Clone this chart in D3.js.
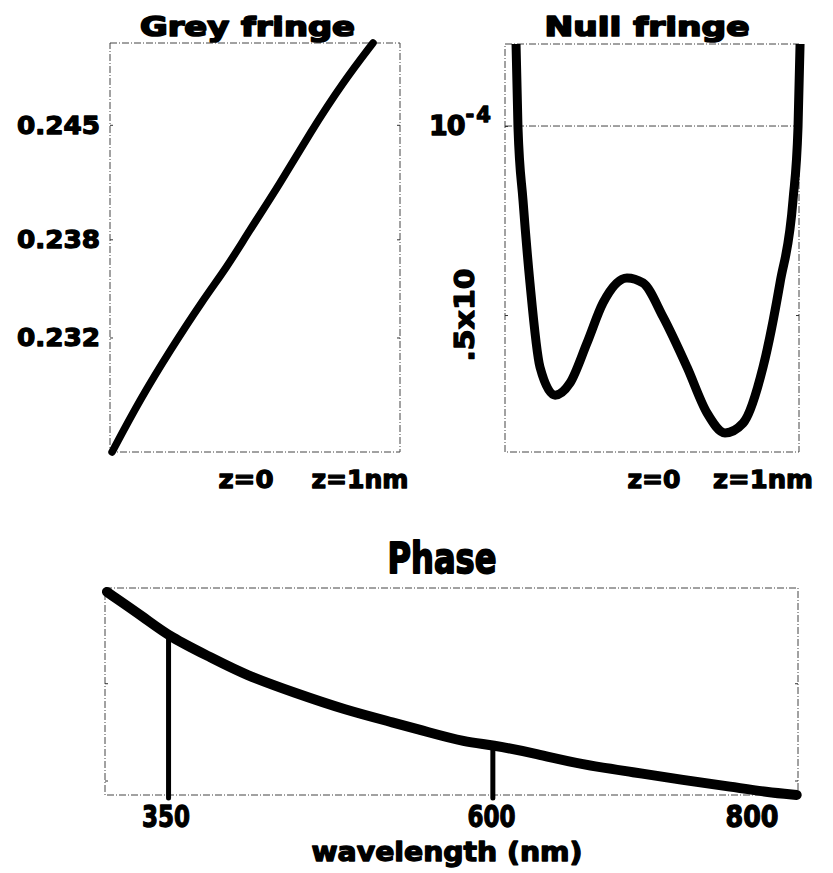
<!DOCTYPE html>
<html>
<head>
<meta charset="utf-8">
<script src="https://cdn.jsdelivr.net/npm/d3@7"></script>
<style>
  html, body { margin: 0; padding: 0; background: #fff; }
  svg { display: block; }
  text { font-family: "DejaVu Sans", "Liberation Sans", sans-serif; font-weight: bold; fill: #000;
         stroke: #000; stroke-width: 1.3px; stroke-linejoin: round; }
</style>
</head>
<body>
<svg id="chart" width="833" height="873"></svg>
<script>
// ---------- data ----------
const greyZ = [-1.175, -0.930, -0.667, -0.377, -0.167, 0.018, 0.298, 0.561, 0.851, 1.114];
const greyIntensity = [0.225, 0.2282, 0.2312, 0.2343, 0.2363, 0.2384, 0.2414, 0.2445, 0.2476, 0.250];
const greyTicks = [0.232, 0.238, 0.245];
const greyTickLabels = ["0.232", "0.238", "0.245"];

const nullZ = [-1.266, -1.248, -1.202, -1.138, -1.046, -0.908, -0.771, -0.615, -0.468, -0.248, -0.101,
               0.083, 0.303, 0.486, 0.651, 0.817, 1.0, 1.156, 1.275, 1.321, 1.340];
// null-fringe intensity in units of 1e-4
const nullIntensity = [1.22, 0.997, 0.804, 0.585, 0.362, 0.288, 0.320, 0.426, 0.532, 0.598, 0.585,
                       0.495, 0.362, 0.241, 0.188, 0.214, 0.362, 0.585, 0.804, 0.997, 1.22];
const nullGrid = [1.0];
const nullHalfTick = 0.5;

const zTicks = [0, 1];
const zTickLabels = ["z=0", "z=1nm"];

const wavelengths = [304.7, 333.9, 353.1, 385.3, 410.7, 449.1, 487.5, 525.9, 551.2, 579.6, 600.3,
                     631.8, 670.2, 708.6, 747.0, 785.0, 811.3, 834.3];
const phase = [0.981, 0.855, 0.763, 0.662, 0.580, 0.493, 0.411, 0.348, 0.304, 0.256, 0.242,
               0.203, 0.145, 0.111, 0.072, 0.039, 0.014, 0.0];
const wlTicks = [350, 600, 800];
const wlTickLabels = ["350", "600", "800"];
const markerWl = [352, 601];
const markerPhase = [0.765, 0.238];
const phaseMinorTicks = [0.07, 0.54];

// ---------- setup ----------
const svg = d3.select("#chart");
svg.append("rect").attr("width", 833).attr("height", 873).attr("fill", "#fff");

const frameStyle = sel => sel.attr("fill", "none").attr("stroke", "#444")
  .attr("stroke-width", 1).attr("stroke-dasharray", "7,2,1,2");

function frame(x0, x1, y0, y1) {
  svg.append("rect").attr("x", x0).attr("y", y0).attr("width", x1 - x0).attr("height", y1 - y0)
    .call(frameStyle);
}

function label(txt, x, y, size, len, anchor) {
  return svg.append("text").attr("x", x).attr("y", y).attr("font-size", size)
    .attr("text-anchor", anchor || "middle")
    .attr("textLength", len).attr("lengthAdjust", "spacingAndGlyphs").text(txt);
}

function sideTicks(yScale, xLeft, xRight, values) {
  [svg.append("g").attr("transform", `translate(${xLeft},0)`)
     .call(d3.axisRight(yScale).tickValues(values).tickSize(3).tickFormat("")),
   svg.append("g").attr("transform", `translate(${xRight},0)`)
     .call(d3.axisLeft(yScale).tickValues(values).tickSize(3).tickFormat(""))]
    .forEach(g => { g.select(".domain").remove(); g.selectAll("line").attr("stroke", "#333"); });
}

// ---------- Grey fringe ----------
const gx = d3.scaleLinear().domain([-1.193, 1.351]).range([110, 400]);
const gy = d3.scaleLinear().domain([0.225, 0.250]).range([452, 43]);
frame(gx.range()[0], gx.range()[1], gy.range()[1], gy.range()[0]);
sideTicks(gy, gx.range()[0], gx.range()[1], greyTicks);

greyTicks.forEach((t, i) => label(greyTickLabels[i], 100, gy(t) + 9, 25, 83, "end"));
zTicks.forEach((t, i) => label(zTickLabels[i], gx(t), 488, 25, i === 0 ? 55 : 97));
label("Grey fringe", 247.5, 36, 27, 215).style("stroke-width", "1.7px");

svg.append("path")
  .datum(greyZ.map((z, i) => [z, greyIntensity[i]]))
  .attr("d", d3.line().x(d => gx(d[0])).y(d => gy(d[1])).curve(d3.curveBasis))
  .attr("fill", "none").attr("stroke", "#000").attr("stroke-width", 7.5)
  .attr("stroke-linecap", "round").attr("stroke-linejoin", "round");

// ---------- Null fringe ----------
const nx = d3.scaleLinear().domain([-1.367, 1.330]).range([505, 799]);
const ny = d3.scaleLinear().domain([0.1376, 1.217]).range([452, 44]);
frame(nx.range()[0], nx.range()[1], ny.range()[1], ny.range()[0]);

svg.append("g").selectAll("line").data(nullGrid).join("line")
  .attr("x1", nx.range()[0]).attr("x2", nx.range()[1])
  .attr("y1", d => ny(d)).attr("y2", d => ny(d))
  .call(frameStyle);
sideTicks(ny, nx.range()[0], nx.range()[1], [nullHalfTick, 1.0]);

const powLabel = svg.append("text").attr("x", 429).attr("y", ny(1.0) + 9)
  .attr("font-size", 27).attr("text-anchor", "start");
powLabel.append("tspan").attr("letter-spacing", -1).text("10");
powLabel.append("tspan").attr("dx", 1).attr("dy", -13).attr("font-size", 21)
  .attr("letter-spacing", 2).text("-4");

svg.append("text").attr("transform", `translate(474,${ny(nullHalfTick)}) rotate(-90)`)
  .attr("font-size", 26).attr("text-anchor", "middle")
  .attr("textLength", 93).attr("lengthAdjust", "spacingAndGlyphs").text(".5x10");
zTicks.forEach((t, i) => label(zTickLabels[i], nx(t), 488, 25, i === 0 ? 53 : 100));
label("Null fringe", 647, 36, 27, 205).style("stroke-width", "1.7px");

svg.append("clipPath").attr("id", "nullClip").append("rect")
  .attr("x", nx.range()[0] - 10).attr("y", ny.range()[1])
  .attr("width", nx.range()[1] - nx.range()[0] + 20).attr("height", ny.range()[0] - ny.range()[1]);
svg.append("path")
  .datum(nullZ.map((z, i) => [z, nullIntensity[i]]))
  .attr("clip-path", "url(#nullClip)")
  .attr("d", d3.line().x(d => nx(d[0])).y(d => ny(d[1])).curve(d3.curveMonotoneX))
  .attr("fill", "none").attr("stroke", "#000").attr("stroke-width", 9)
  .attr("stroke-linecap", "round").attr("stroke-linejoin", "round");

// ---------- Phase ----------
const px = d3.scaleLinear().domain([303.2, 835.3]).range([105, 798]);
const py = d3.scaleLinear().domain([0, 1]).range([795, 588]);
frame(px.range()[0], px.range()[1], py.range()[1], py.range()[0]);
sideTicks(py, px.range()[0], px.range()[1], phaseMinorTicks);

svg.append("g").selectAll("line").data(markerWl).join("line")
  .attr("x1", d => px(d)).attr("x2", d => px(d))
  .attr("y1", (d, i) => py(markerPhase[i])).attr("y2", py.range()[0] + 3)
  .attr("stroke", "#000").attr("stroke-width", 5).attr("stroke-linecap", "round");

svg.append("path")
  .datum(wavelengths.map((w, i) => [w, phase[i]]))
  .attr("d", d3.line().x(d => px(d[0])).y(d => py(d[1])).curve(d3.curveBasis))
  .attr("fill", "none").attr("stroke", "#000").attr("stroke-width", 10)
  .attr("stroke-linecap", "round").attr("stroke-linejoin", "round");

wlTicks.forEach((t, i) => label(wlTickLabels[i], px(t), 827, 30, i === 2 ? 53 : 48));
label("Phase", 442, 573, 42, 109).style("stroke-width", "1.9px");
label("wavelength (nm)", 447, 861, 26, 271);
</script>
</body>
</html>
